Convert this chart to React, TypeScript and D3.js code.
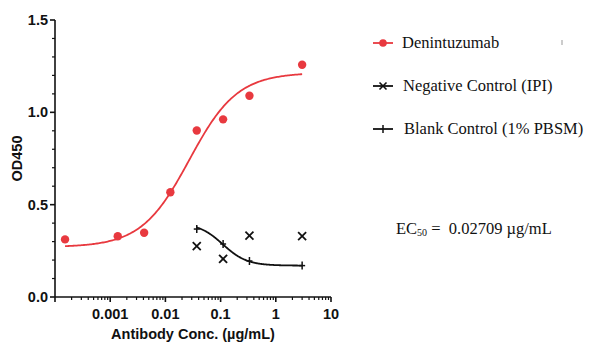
import * as d3 from "d3";

// Denintuzumab (red dots + 4PL fit)
const denConc = [0.000152, 0.00137, 0.00412, 0.0123, 0.037, 0.111, 0.333, 3];
const denOD = [0.312, 0.329, 0.348, 0.567, 0.902, 0.962, 1.09, 1.258];
const denFit = { bottom: 0.27, top: 1.215, ec50: 0.02709, hill: 1.0, from: 0.000152, to: 3 };

// Negative control (IPI), x markers
const negConc = [0.037, 0.111, 0.333, 3];
const negOD = [0.276, 0.207, 0.332, 0.33];

// Blank control (1% PBSM), + markers with a fitted curve
const blankConc = [0.037, 0.111, 0.333, 3];
const blankOD = [0.368, 0.287, 0.195, 0.17];
const blankFit = { bottom: 0.17, top: 0.4, ec50: 0.11, hill: -2.0, from: 0.037, to: 3 };

const xTickLabels = ["0.001", "0.01", "0.1", "1", "10"];
const yTicks = [0, 0.5, 1.0, 1.5];
const legendLabels = ["Denintuzumab", "Negative Control (IPI)", "Blank Control (1% PBSM)"];

const RED = "#e8393f";
const W = 598;
const H = 359;
const MARGIN = { left: 55, right: 267, top: 20, bottom: 62 };

const fourPL = (p: typeof denFit) => (c: number) =>
  p.bottom + (p.top - p.bottom) / (1 + Math.pow(10, (Math.log10(p.ec50) - Math.log10(c)) * p.hill));

export default function App() {
  const x = d3.scaleLog().domain([1e-4, 10]).range([MARGIN.left, W - MARGIN.right]);
  const y = d3.scaleLinear().domain([0, 1.5]).range([H - MARGIN.bottom, MARGIN.top]);

  const line = d3
    .line<number>()
    .x((c) => x(c))
    .curve(d3.curveLinear);

  const curvePath = (p: typeof denFit) => {
    const f = fourPL(p);
    const lo = Math.log10(p.from);
    const hi = Math.log10(p.to);
    const cs = d3.range(0, 201).map((i) => Math.pow(10, lo + ((hi - lo) * i) / 200));
    return line.y((c) => y(f(c)))(cs) as string;
  };

  // minor ticks for log axis
  const minorX: number[] = [];
  for (let e = -4; e < 1; e++) {
    for (let m = 2; m <= 9; m++) minorX.push(m * Math.pow(10, e));
  }
  const majorX = [1e-4, 1e-3, 1e-2, 1e-1, 1, 10];
  const minorY = d3.range(0, 15).map((i) => i / 10).filter((v) => Math.round(v * 10) % 5 !== 0);

  const y0 = y(0);
  const axisFont = "'Liberation Sans', Arial, sans-serif";
  const serif = "'Liberation Serif', 'Times New Roman', serif";

  return (
    <svg width={W} height={H} style={{ position: "absolute", left: 0, top: 0, background: "#fff" }}>
      {/* axes */}
      <g stroke="#111" strokeWidth={1.6} fill="none">
        <line x1={x(1e-4)} x2={x(10)} y1={y0} y2={y0} />
        <line x1={x(1e-4)} x2={x(1e-4)} y1={y(1.5)} y2={y0} />
        {majorX.map((v) => (
          <line key={"mx" + v} x1={x(v)} x2={x(v)} y1={y0} y2={y0 + 5} />
        ))}
        {minorX.map((v, i) => (
          <line key={"nx" + i} x1={x(v)} x2={x(v)} y1={y0} y2={y0 + 3} strokeWidth={1.2} />
        ))}
        {yTicks.map((v) => (
          <line key={"my" + v} x1={x(1e-4) - 5} x2={x(1e-4)} y1={y(v)} y2={y(v)} />
        ))}
        {minorY.map((v, i) => (
          <line key={"ny" + i} x1={x(1e-4) - 3} x2={x(1e-4)} y1={y(v)} y2={y(v)} strokeWidth={1.2} />
        ))}
      </g>
      <g fontFamily={axisFont} fontWeight="bold" fontSize={14.5} fill="#111">
        {yTicks.map((v) => (
          <text key={"ty" + v} x={x(1e-4) - 7} y={y(v)} textAnchor="end" dominantBaseline="central">
            {v.toFixed(1)}
          </text>
        ))}
        {xTickLabels.map((t) => (
          <text key={"tx" + t} x={x(+t)} y={y0 + 22} textAnchor="middle">
            {t}
          </text>
        ))}
        <text x={193} y={339} textAnchor="middle">
          Antibody Conc. (µg/mL)
        </text>
        <text transform={`translate(22,${y(0.75)}) rotate(-90)`} textAnchor="middle">
          OD450
        </text>
      </g>

      {/* curves */}
      <path d={curvePath(denFit)} fill="none" stroke={RED} strokeWidth={1.8} />
      <path d={curvePath(blankFit)} fill="none" stroke="#111" strokeWidth={1.8} />

      {/* denintuzumab points */}
      {denConc.map((c, i) => (
        <circle key={"d" + i} cx={x(c)} cy={y(denOD[i])} r={4.2} fill={RED} />
      ))}

      {/* negative control x markers */}
      <g stroke="#111" strokeWidth={1.8}>
        {negConc.map((c, i) => {
          const cx = x(c);
          const cy = y(negOD[i]);
          return (
            <g key={"n" + i}>
              <line x1={cx - 4} x2={cx + 4} y1={cy - 4} y2={cy + 4} />
              <line x1={cx - 4} x2={cx + 4} y1={cy + 4} y2={cy - 4} />
            </g>
          );
        })}
        {blankConc.map((c, i) => {
          const cx = x(c);
          const cy = y(blankOD[i]);
          return (
            <g key={"b" + i}>
              <line x1={cx} x2={cx} y1={cy - 4} y2={cy + 4} strokeWidth={1.5} />
              <line x1={cx - 3} x2={cx + 3} y1={cy} y2={cy} strokeWidth={1.5} />
            </g>
          );
        })}
      </g>

      {/* legend */}
      <g fontFamily={serif} fontSize={16.5} fill="#111">
        {legendLabels.map((label, i) => {
          const ly = 43 + i * 43;
          const lx = 373;
          return (
            <g key={"lg" + i}>
              <line x1={lx} x2={lx + 20} y1={ly} y2={ly} stroke={i === 0 ? RED : "#111"} strokeWidth={1.8} />
              {i === 0 && <circle cx={lx + 10} cy={ly} r={3.8} fill={RED} />}
              {i === 1 && (
                <g stroke="#111" strokeWidth={1.6}>
                  <line x1={lx + 6.5} x2={lx + 13.5} y1={ly - 3.5} y2={ly + 3.5} />
                  <line x1={lx + 6.5} x2={lx + 13.5} y1={ly + 3.5} y2={ly - 3.5} />
                </g>
              )}
              {i === 2 && <line x1={lx + 10} x2={lx + 10} y1={ly - 4} y2={ly + 4} stroke="#111" strokeWidth={1.5} />}
              <text x={i === 0 ? 402 : 403 + (i === 2 ? 1 : 0)} y={ly + 5}>
                {label}
              </text>
            </g>
          );
        })}
        <line x1={562} x2={562} y1={40} y2={45} stroke="#999" strokeWidth={1} />
        <text x={396} y={234}>
          EC<tspan fontSize={10} dy={2}>50</tspan>
          <tspan dy={-2}>{"\u00a0=\u00a0\u00a0"}0.02709 µg/mL</tspan>
        </text>
      </g>
    </svg>
  );
}
